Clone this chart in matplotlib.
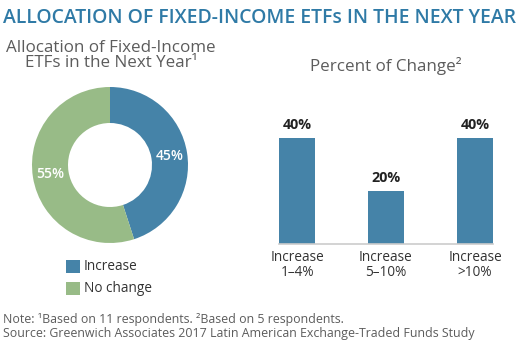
import matplotlib
matplotlib.use("Agg")
import matplotlib.pyplot as plt
from matplotlib.patches import Rectangle
import numpy as np

# ---- data ----
title = "ALLOCATION OF FIXED-INCOME ETFs IN THE NEXT YEAR"
donut_title = ["Allocation of Fixed-Income", "ETFs in the Next Year\u00b9"]
donut_labels = ["Increase", "No change"]
donut_values = [45, 55]
bar_title = "Percent of Change\u00b2"
bar_categories = ["Increase\n1\u20134%", "Increase\n5\u201310%", "Increase\n>10%"]
bar_values = [40, 20, 40]
note_lines = ["Note: \u00b9Based on 11 respondents. \u00b2Based on 5 respondents.",
              "Source: Greenwich Associates 2017 Latin American Exchange-Traded Funds Study"]

BLUE = "#4583a8"
GREEN = "#98bb87"
TITLE_BLUE = "#2f7aa6"
GRAY = "#5c5c5c"
DARK = "#333333"

W, H = 521, 351
plt.rcParams['font.family'] = ['Open Sans', 'DejaVu Sans']
fig = plt.figure(figsize=(W / 100, H / 100), dpi=100)
renderer = fig.canvas.get_renderer()

def fx(px):
    return px / W

def fy(py):
    return 1 - py / H

def fit(t, target_px):
    """Scale a text's font size so its rendered width matches target_px."""
    for _ in range(3):
        w = t.get_window_extent(renderer).width
        t.set_fontsize(t.get_fontsize() * target_px / w)
    return t.get_fontsize()

# title
t = fig.text(fx(3), fy(18), title, color=TITLE_BLUE, fontsize=12, fontweight='semibold',
             ha='left', va='center')
fit(t, 514)

# subtitles
t1 = fig.text(fx(111), fy(48), donut_title[0], color=GRAY, fontsize=10, ha='center', va='center')
sub_fs = fit(t1, 211)
fig.text(fx(111), fy(63), donut_title[1], color=GRAY, fontsize=sub_fs, ha='center', va='center')
fig.text(fx(386), fy(66), bar_title, color=GRAY, fontsize=sub_fs, ha='center', va='center')

# donut
cx, cy, r = 110, 165, 78
axd = fig.add_axes([fx(cx - r), fy(cy + r), (2 * r) / W, (2 * r) / H])
wedges, texts = axd.pie(donut_values, colors=[BLUE, GREEN], startangle=90, counterclock=False,
                        radius=1, wedgeprops=dict(width=1 - 42 / 78, edgecolor='none'))
mid_r = (1 + 42 / 78) / 2
ang = 90.0
for v in donut_values:
    span = v / sum(donut_values) * 360
    a = np.deg2rad(ang - span / 2)
    tt = axd.text(mid_r * np.cos(a), mid_r * np.sin(a), f"{v}%", color='white', fontsize=10,
                  fontweight='semibold', ha='center', va='center')
    fit(tt, 28)
    ang -= span
axd.set_xlim(-1, 1)
axd.set_ylim(-1, 1)
axd.set_aspect('equal')
axd.axis('off')

# legend
tl = fig.text(0, 0, "Increase", fontsize=10)
lab_fs = fit(tl, 54)
tl.remove()
for i, (lab, col) in enumerate(zip(donut_labels, [BLUE, GREEN])):
    top = 260 + i * 22
    fig.patches.append(Rectangle((fx(66), fy(top + 13)), 14 / W, 13 / H, transform=fig.transFigure,
                                 facecolor=col, edgecolor='none'))
    fig.text(fx(84), fy(top + 7), lab, color=DARK, fontsize=lab_fs, ha='left', va='center')

# bars
x0, x1, base, top = 279, 493, 244, 100
axb = fig.add_axes([fx(x0), fy(base), (x1 - x0) / W, (base - top) / H])
xs = np.arange(len(bar_values))
bw = 36 / 89
bars = axb.bar(xs, bar_values, width=bw, color=BLUE)
axb.set_xlim(-bw / 2, len(bar_values) - 1 + bw / 2)
axb.set_ylim(0, (base - top) / 2.65)
bl = axb.bar_label(bars, labels=[f"{v}%" for v in bar_values], padding=4, fontsize=10,
                   fontweight='bold', color='#222222')
bfs = fit(bl[0], 29)
for b in bl:
    b.set_fontsize(bfs)
for s in ['top', 'right', 'left']:
    axb.spines[s].set_visible(False)
axb.spines['bottom'].set_color('#cccccc')
axb.spines['bottom'].set_linewidth(1.2)
axb.set_yticks([])
axb.set_xticks(xs)
axb.set_xticklabels(bar_categories, fontsize=lab_fs, color=DARK, linespacing=1.05)
axb.tick_params(axis='x', length=0, pad=4)

# notes
fig.text(fx(3), fy(319), note_lines[0], color=GRAY, fontsize=8, ha='left', va='center')
tn = fig.text(fx(3), fy(333), note_lines[1], color=GRAY, fontsize=8, ha='left', va='center')
nfs = fit(tn, 477)
fig.texts[-2].set_fontsize(nfs)

fig.savefig("out.png", dpi=100, facecolor='white')
